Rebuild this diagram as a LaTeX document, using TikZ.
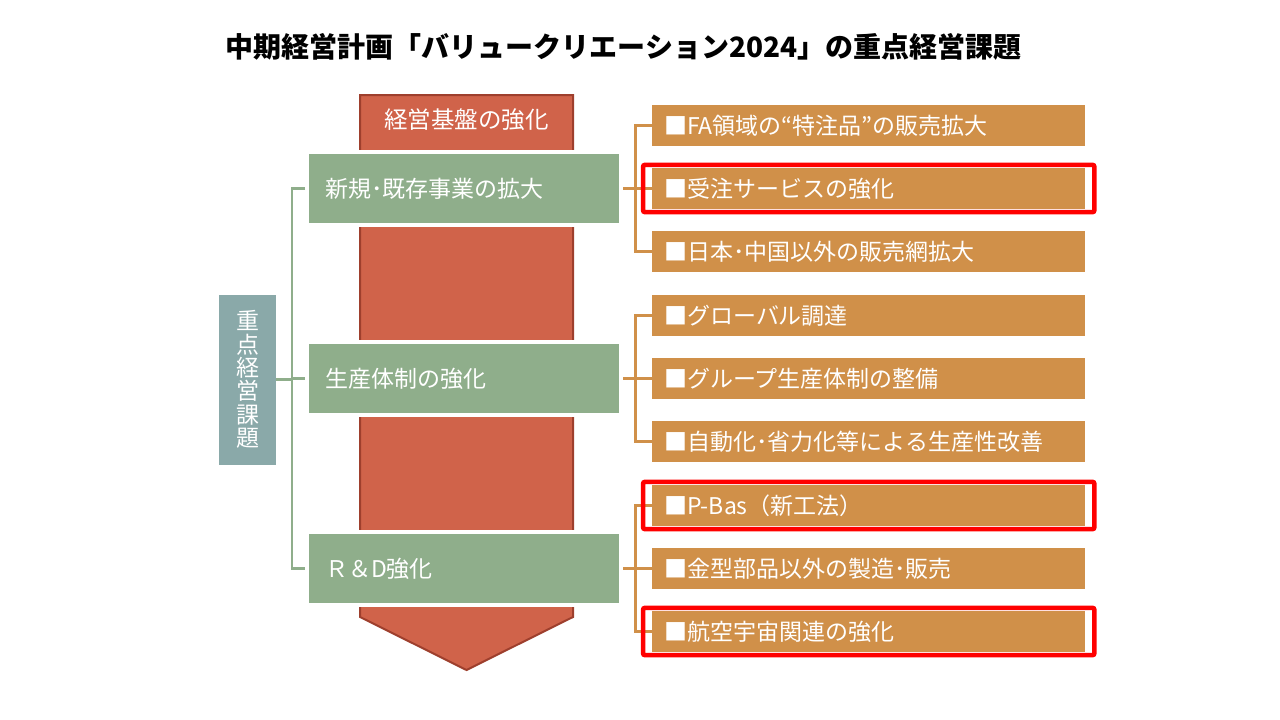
\documentclass[tikz,border=0pt]{standalone}
\usepackage{fontspec}
\setmainfont{Noto Sans CJK JP}
\usetikzlibrary{fit}
\definecolor{ink}{HTML}{000000}
\definecolor{brick}{HTML}{D0634A}
\definecolor{brickedge}{HTML}{9E3F2D}
\definecolor{sage}{HTML}{8FAE8B}
\definecolor{slate}{HTML}{8AA9A9}
\definecolor{ochre}{HTML}{D09049}
\definecolor{alert}{HTML}{FF0000}
\newcommand{\bodysize}{\fontsize{23}{27}\selectfont}
\tikzset{
  title/.style={font=\bfseries\fontsize{28}{32}\selectfont, text=ink},
  pillar/.style={fill=brick, draw=brickedge, line width=2pt, line join=miter},
  pillartext/.style={font=\fontsize{23.5}{27}\selectfont, text=white},
  theme/.style={fill=slate, text=white, minimum width=57pt, minimum height=170pt,
                inner sep=0pt, align=center, font=\fontsize{23}{23.4}\selectfont},
  policy/.style={fill=sage, draw=white, line width=4pt, text=white, font=\bodysize,
                 text width=278pt, inner xsep=18pt, minimum height=73pt, align=left},
  item/.style={fill=ochre, text=white, font=\bodysize, anchor=west,
               text width=409pt, inner xsep=12pt, minimum height=41pt, align=left},
  gline/.style={draw=sage, line width=2.6pt},
  oline/.style={draw=ochre, line width=2.6pt},
  hilite/.style={draw=alert, line width=4.5pt, rounded corners=2pt,
                 inner xsep=9pt, inner ysep=3pt}
}

\begin{document}
\begin{tikzpicture}[x=1pt,y=-1pt]
\useasboundingbox (0,0) rectangle (1280,720);

% Title line.
\node[title] (head) at (623.5,47)
  {中期経営計画「バリュークリエーション2024」の重点経営課題};

% Downward pillar behind the three policies.
\draw[pillar] (360,95) -- (573,95) -- (573,617) -- (466.5,670)
  -- (360,617) -- cycle;
\node[pillartext] (base) at (466.5,120) {経営基盤の強化};

% Theme label and the three policies.
\node[theme] (kadai) at (247.5,379.5) {重\\点\\経\\営\\課\\題};
\node[policy] (p1) at (464,188.5) {新規･既存事業の拡大};
\node[policy] (p2) at (464,378.5) {生産体制の強化};
\node[policy] (p3) at (464,568.5) {Ｒ＆D強化};

% Measures, three per policy.
\node[item] (m11) at (652,125.5) {■FA領域の“特注品”の販売拡大};
\node[item] (m12) at (652,188.5) {■受注サービスの強化};
\node[item] (m13) at (652,251.5) {■日本･中国以外の販売網拡大};
\node[item] (m21) at (652,315.5) {■グローバル調達};
\node[item] (m22) at (652,378.5) {■グループ生産体制の整備};
\node[item] (m23) at (652,441.5) {■自動化･省力化等による生産性改善};
\node[item] (m31) at (652,505.5) {■P-Bas（新工法）};
\node[item] (m32) at (652,568.5) {■金型部品以外の製造･販売};
\node[item] (m33) at (652,631.5) {■航空宇宙関連の強化};

% Brackets: theme to policies, policies to measures.
\coordinate (gx) at (292,0);
\coordinate (ox) at (635.5,0);
\draw[gline] (kadai.east) -- (kadai.east -| gx);
\draw[gline] (p1.west) -- (p1.west -| gx) -- (p3.west -| gx) -- (p3.west);
\draw[gline] (p2.west -| gx) -- (p2.west);
\foreach \g in {1,2,3} {
  \draw[oline] (m\g1.west) -- (m\g1.west -| ox) -- (m\g3.west -| ox) -- (m\g3.west);
  \draw[oline] (p\g.east) -- (m\g2.west);
}

% Highlighted measures.
\node[hilite, fit=(m12)] (h1) {};
\node[hilite, fit=(m31)] (h2) {};
\node[hilite, fit=(m33)] (h3) {};

\end{tikzpicture}
\end{document}
